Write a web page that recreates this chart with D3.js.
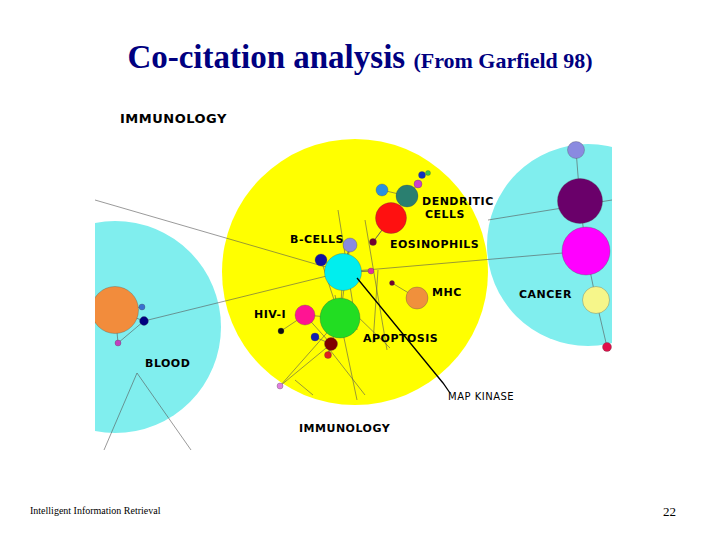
<!DOCTYPE html>
<html><head><meta charset="utf-8">
<script src="https://cdn.jsdelivr.net/npm/d3@7"></script>
<style>body{margin:0;background:#fff}</style>
</head><body>
<svg width="720" height="540"></svg>
<script>
// clusters: big background circles
const clusterX = [20, 260, 493];
const clusterY = [227, 172, 145];
const clusterR = [106, 133, 101];
const clusterColor = ['#80eeee', '#ffff00', '#80eeee'];

// document nodes (map units)
const nodeX = [20, 49, 47, 23, 248, 245, 296, 312, 287, 327, 323, 333, 255, 226, 278, 276, 297, 322, 210, 186, 220, 236, 233, 185, 481, 485, 491, 501, 512];
const nodeY = [210, 221, 207, 243, 172, 218, 118, 96, 90, 75, 84, 73, 145, 160, 142, 171, 183, 198, 215, 231, 237, 244, 255, 286, 50, 101, 151, 200, 247];
const nodeR = [23.5, 4.4, 3, 3, 18.5, 20, 15.5, 11, 6, 3.5, 4, 2.5, 7, 6, 3.5, 3, 2.5, 11, 10, 3, 4, 6.5, 3.5, 3, 8.5, 22.5, 24, 13.5, 4.5];
const nodeColor = ['#f28c3c', '#000080', '#3a6fd0', '#c040c0', '#00eeee', '#22dd22', '#ff1010', '#2a7f70', '#2a90e0', '#1030c0', '#cc40cc', '#40cc40', '#8a8ae0', '#1010a0', '#700030', '#e030a0', '#700030', '#f0903c', '#ff1493', '#101010', '#1020b0', '#800000', '#e02020', '#e080e0', '#8a8ae0', '#6a006a', '#ff00ff', '#f6f68a', '#e0104a'];

// links between nodes (index pairs)
const linkSource = [1, 0, 0, 0, 3, 4, 4, 4, 6, 6, 7, 8, 12, 13, 14, 15, 16, 5, 5, 5, 5, 18, 19, 20, 21, 22, 23, 24, 25, 26, 27, 13, 12];
const linkTarget = [4, 1, 2, 3, 1, 26, 12, 15, 7, 14, 10, 7, 4, 4, 6, 4, 17, 4, 18, 21, 23, 21, 18, 21, 22, 21, 21, 25, 26, 27, 28, 5, 5];

// free edges (x1,y1,x2,y2 in map units)
const edgeX1 = [0, 393, 42, 42, 270, 258, 243, 240, 235, 200, 283];
const edgeY1 = [100, 120, 273, 273, 120, 212, 110, 195, 250, 280, 170];
const edgeX2 = [248, 517, 9, 96, 292, 295, 262, 262, 270, 218, 278];
const edgeY2 = [172, 100, 350, 350, 250, 248, 230, 300, 295, 295, 243];

// MAP KINASE pointer
const pointerX = [262, 348, 355];
const pointerY = [178, 283, 293];

const labelText = ['IMMUNOLOGY', 'DENDRITIC', 'CELLS', 'B-CELLS', 'EOSINOPHILS', 'MHC', 'CANCER', 'HIV-I', 'APOPTOSIS', 'BLOOD', 'MAP KINASE', 'IMMUNOLOGY'];
const labelX = [25, 327, 330, 195, 295, 337, 424, 159, 268, 50, 353, 204];
const labelY = [23, 105, 118, 143, 148, 196, 198, 218, 242, 267, 300, 332];

const svg = d3.select('svg');
const mapLeft = 95, mapTop = 100, mapW = 517, mapH = 360;
const x = d3.scaleLinear().domain([0, mapW]).range([mapLeft, mapLeft + mapW]);
const y = d3.scaleLinear().domain([0, mapH]).range([mapTop, mapTop + mapH]);
const k = x(1) - x(0);

svg.append('defs').append('clipPath').attr('id', 'clip')
  .append('rect').attr('x', mapLeft).attr('y', mapTop).attr('width', mapW).attr('height', mapH);

const g = svg.append('g').attr('clip-path', 'url(#clip)');

g.selectAll('circle.cluster').data(clusterX).enter().append('circle')
  .attr('cx', (d, i) => x(d)).attr('cy', (d, i) => y(clusterY[i]))
  .attr('r', (d, i) => clusterR[i] * k).attr('fill', (d, i) => clusterColor[i]);

g.selectAll('line.edge').data(edgeX1).enter().append('line')
  .attr('x1', d => x(d)).attr('y1', (d, i) => y(edgeY1[i]))
  .attr('x2', (d, i) => x(edgeX2[i])).attr('y2', (d, i) => y(edgeY2[i]))
  .attr('stroke', '#555').attr('stroke-width', 0.6);

g.selectAll('line.link').data(linkSource).enter().append('line')
  .attr('x1', d => x(nodeX[d])).attr('y1', d => y(nodeY[d]))
  .attr('x2', (d, i) => x(nodeX[linkTarget[i]])).attr('y2', (d, i) => y(nodeY[linkTarget[i]]))
  .attr('stroke', '#555').attr('stroke-width', 0.6);

g.selectAll('circle.node').data(nodeX).enter().append('circle')
  .attr('cx', d => x(d)).attr('cy', (d, i) => y(nodeY[i]))
  .attr('r', (d, i) => nodeR[i] * k).attr('fill', (d, i) => nodeColor[i])
  .attr('stroke', '#444').attr('stroke-width', 0.3);

g.append('path')
  .attr('d', d3.line().x(d => x(d[0])).y(d => y(d[1]))(pointerX.map((d, i) => [d, pointerY[i]])))
  .attr('fill', 'none').attr('stroke', '#000').attr('stroke-width', 1.3);

g.selectAll('text.label').data(labelText).enter().append('text')
  .attr('x', (d, i) => x(labelX[i])).attr('y', (d, i) => y(labelY[i]))
  .attr('font-family', 'DejaVu Sans, sans-serif')
  .attr('font-weight', (d, i) => i === 10 ? 'normal' : 'bold')
  .attr('font-size', (d, i) => i === 0 ? 13 : (i === 10 ? 10 : 11))
  .attr('letter-spacing', 0.5)
  .text(d => d);

const title = svg.append('text').attr('x', 360).attr('y', 68).attr('text-anchor', 'middle')
  .attr('font-family', 'Liberation Serif, Times New Roman, serif').attr('font-weight', 'bold').attr('fill', '#000080');
title.append('tspan').attr('font-size', 33).text('Co-citation analysis ');
title.append('tspan').attr('font-size', 22).text('(From Garfield 98)');

svg.append('text').attr('x', 30).attr('y', 514).attr('font-family', 'Liberation Serif, serif')
  .attr('font-size', 10).text('Intelligent Information Retrieval');
svg.append('text').attr('x', 676).attr('y', 516).attr('text-anchor', 'end').attr('font-family', 'Liberation Serif, serif')
  .attr('font-size', 13).text('22');
</script>
</body></html>
